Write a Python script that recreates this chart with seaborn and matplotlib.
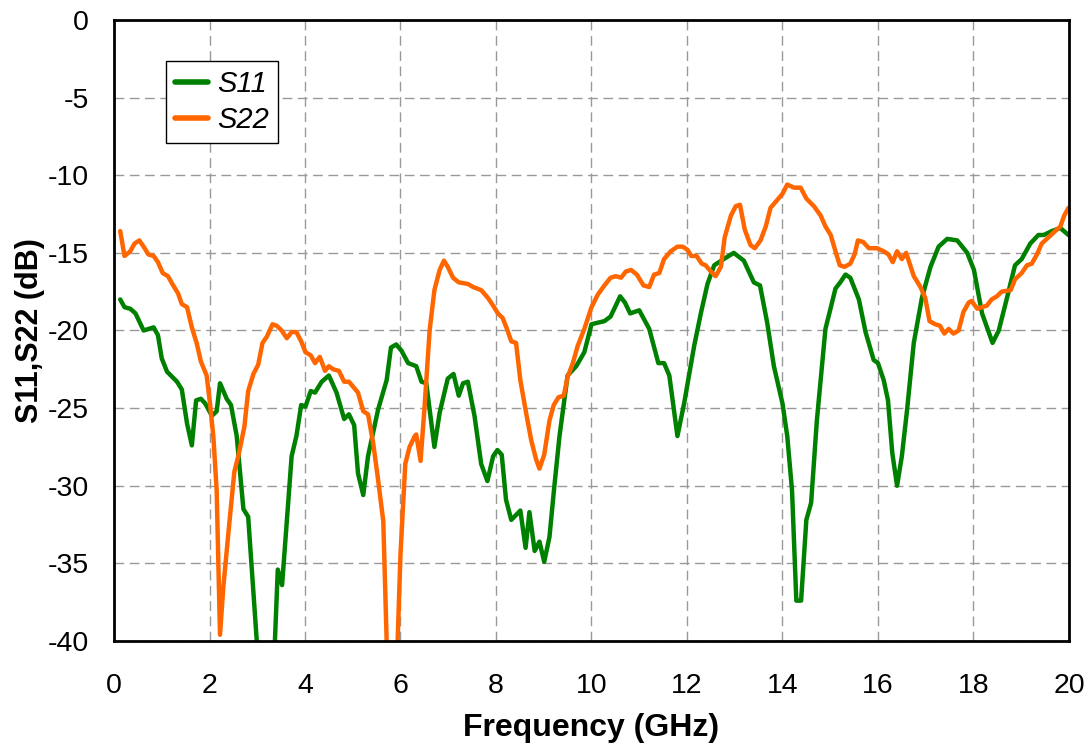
import matplotlib
matplotlib.use("Agg")
import matplotlib.pyplot as plt
import seaborn as sns
import pandas as pd

# S11 trace (GHz, dB); values under -40 are off-axis
s11_freq = [0.13, 0.22, 0.34, 0.45, 0.62, 0.83, 0.92, 1.00, 1.11, 1.32, 1.42, 1.53, 1.63, 1.72, 1.82, 1.91,
            2.05, 2.15, 2.22, 2.36, 2.45, 2.57, 2.71, 2.81, 2.99, 3.15, 3.37, 3.43, 3.52, 3.72, 3.82, 3.92,
            4.01, 4.12, 4.21, 4.35, 4.50, 4.66, 4.82, 4.92, 5.03, 5.11, 5.22, 5.32, 5.53, 5.71, 5.80, 5.91,
            6.02, 6.16, 6.33, 6.44, 6.54, 6.71, 6.82, 6.99, 7.11, 7.22, 7.31, 7.41, 7.55, 7.69, 7.82, 7.94,
            8.03, 8.12, 8.21, 8.32, 8.51, 8.62, 8.70, 8.81, 8.91, 9.01, 9.12, 9.22, 9.33, 9.50, 9.68, 9.85,
            10.00, 10.13, 10.27, 10.40, 10.60, 10.70, 10.81, 11.00, 11.21, 11.40, 11.52, 11.63, 11.80, 11.94,
            12.15, 12.29, 12.43, 12.57, 12.77, 12.98, 13.19, 13.40, 13.53, 13.68, 13.82, 14.00, 14.10, 14.20,
            14.29, 14.39, 14.50, 14.60, 14.72, 14.90, 15.11, 15.21, 15.32, 15.42, 15.60, 15.74, 15.91, 16.00,
            16.12, 16.21, 16.30, 16.40, 16.50, 16.61, 16.75, 16.92, 17.10, 17.27, 17.45, 17.66, 17.87, 18.01,
            18.18, 18.40, 18.53, 18.71, 18.87, 19.01, 19.19, 19.36, 19.47, 19.64, 19.82, 19.99]
s11_db = [-18.0, -18.5, -18.6, -18.9, -20.0, -19.8, -20.3, -21.8, -22.65, -23.3, -23.8, -26.0, -27.4, -24.5, -24.4, -24.7,
          -25.5, -25.2, -23.4, -24.4, -24.8, -26.8, -31.5, -32.0, -40.0, -45.0, -40.0, -35.4, -36.4, -28.1, -26.8, -24.8,
          -24.9, -23.9, -24.0, -23.3, -22.9, -24.0, -25.7, -25.4, -26.1, -29.2, -30.6, -28.1, -25.1, -23.2, -21.1, -20.9,
          -21.3, -22.1, -22.3, -23.3, -23.4, -27.5, -25.3, -23.1, -22.8, -24.2, -23.4, -23.3, -25.5, -28.6, -29.7, -28.1,
          -27.7, -28.0, -30.9, -32.2, -31.6, -34.0, -31.7, -34.2, -33.6, -34.9, -33.3, -30.1, -26.8, -22.9, -22.3, -21.4,
          -19.6, -19.5, -19.4, -19.1, -17.8, -18.2, -18.9, -18.7, -19.9, -22.1, -22.1, -22.9, -26.8, -24.7,
          -21.0, -18.9, -17.0, -15.8, -15.4, -15.0, -15.5, -16.9, -17.1, -19.5, -22.3, -24.7, -26.8, -30.3,
          -37.4, -37.4, -32.2, -31.1, -25.8, -19.9, -17.3, -16.9, -16.4, -16.6, -18.0, -20.1, -21.9, -22.1,
          -23.2, -24.5, -27.9, -30.0, -28.1, -25.1, -20.8, -17.9, -15.9, -14.6, -14.1, -14.2, -15.0, -16.1,
          -18.9, -20.8, -20.0, -17.8, -15.8, -15.4, -14.4, -13.85, -13.85, -13.6, -13.4, -13.85]

# S22 trace
s22_freq = [0.13, 0.22, 0.34, 0.43, 0.53, 0.62, 0.72, 0.83, 0.92, 1.02, 1.13, 1.22, 1.34, 1.42, 1.53, 1.63,
            1.73, 1.82, 1.94, 2.01, 2.08, 2.15, 2.22, 2.29, 2.40, 2.52, 2.61, 2.73, 2.81, 2.92, 3.02, 3.11,
            3.20, 3.32, 3.41, 3.51, 3.62, 3.72, 3.82, 3.92, 4.01, 4.12, 4.21, 4.31, 4.42, 4.50, 4.59, 4.71,
            4.82, 4.92, 5.03, 5.11, 5.22, 5.32, 5.43, 5.53, 5.64, 5.71, 5.83, 5.94, 6.00, 6.10, 6.19, 6.30,
            6.33, 6.42, 6.50, 6.61, 6.71, 6.82, 6.91, 6.99, 7.10, 7.22, 7.41, 7.52, 7.69, 7.83, 7.94, 8.04,
            8.14, 8.23, 8.32, 8.42, 8.51, 8.63, 8.74, 8.84, 8.91, 9.01, 9.12, 9.21, 9.31, 9.42, 9.50, 9.61,
            9.71, 9.85, 10.00, 10.13, 10.27, 10.40, 10.51, 10.62, 10.72, 10.83, 10.95, 11.09, 11.21, 11.31,
            11.42, 11.52, 11.66, 11.80, 11.91, 12.01, 12.09, 12.20, 12.31, 12.39, 12.50, 12.60, 12.71, 12.79,
            12.92, 13.02, 13.11, 13.21, 13.33, 13.42, 13.54, 13.65, 13.75, 13.89, 14.00, 14.10, 14.24, 14.38,
            14.50, 14.66, 14.80, 14.90, 15.01, 15.11, 15.20, 15.30, 15.42, 15.51, 15.58, 15.69, 15.81, 15.98,
            16.12, 16.22, 16.31, 16.40, 16.50, 16.59, 16.75, 16.89, 16.99, 17.08, 17.20, 17.30, 17.39, 17.48,
            17.58, 17.69, 17.79, 17.90, 17.96, 18.08, 18.18, 18.28, 18.38, 18.49, 18.59, 18.78, 18.87, 19.01,
            19.12, 19.22, 19.33, 19.43, 19.57, 19.71, 19.82, 19.90, 19.99]
s22_db = [-13.6, -15.2, -14.9, -14.4, -14.2, -14.6, -15.1, -15.2, -15.6, -16.3, -16.5, -17.0, -17.6, -18.3, -18.5, -19.8,
          -20.8, -22.0, -22.9, -24.7, -26.8, -30.3, -39.6, -36.5, -32.9, -29.1, -28.0, -26.2, -23.9, -22.8, -22.2, -20.8,
          -20.4, -19.6, -19.7, -20.0, -20.5, -20.1, -20.1, -20.7, -21.4, -21.6, -22.1, -21.7, -22.6, -22.3, -22.5, -22.6,
          -23.3, -23.3, -23.7, -24.0, -25.2, -25.4, -27.3, -29.6, -32.3, -40.0, -45.0, -40.0, -34.4, -28.6, -27.5, -26.8,
          -26.7, -28.4, -25.1, -20.0, -17.4, -16.1, -15.5, -15.9, -16.6, -16.9, -17.0, -17.2, -17.4, -17.9, -18.4, -18.9,
          -19.2, -19.9, -20.7, -20.8, -23.2, -25.3, -27.1, -28.3, -28.9, -28.0, -25.8, -24.8, -24.3, -24.2, -23.0, -22.1,
          -21.0, -19.9, -18.5, -17.7, -17.1, -16.6, -16.5, -16.6, -16.2, -16.1, -16.4, -17.1, -17.2, -16.4,
          -16.3, -15.4, -14.9, -14.6, -14.6, -14.8, -15.2, -15.2, -15.7, -15.8, -16.2, -16.5, -15.9, -14.0,
          -12.6, -12.0, -11.9, -13.5, -14.5, -14.7, -14.2, -13.3, -12.1, -11.6, -11.2, -10.6, -10.8, -10.8,
          -11.5, -12.0, -12.6, -13.3, -13.85, -14.9, -15.8, -15.9, -15.7, -15.1, -14.2, -14.3, -14.7, -14.7,
          -14.9, -15.1, -15.6, -14.9, -15.4, -15.0, -16.5, -17.2, -17.9, -19.4, -19.6, -19.7, -20.2, -19.9,
          -20.2, -20.0, -18.8, -18.2, -18.1, -18.6, -18.5, -18.4, -18.0, -17.8, -17.5, -17.4, -16.7, -16.3,
          -15.8, -15.7, -15.1, -14.4, -14.0, -13.6, -13.3, -12.6, -12.1]

x_ticks = list(range(0, 21, 2))
y_ticks = list(range(-40, 1, 5))

sns.set_style("white")
plt.rcParams['font.family'] = ['Liberation Sans', 'DejaVu Sans']
plt.rcParams['axes.unicode_minus'] = False
plt.rcParams['text.color'] = 'black'
plt.rcParams['xtick.color'] = '#444444'
plt.rcParams['ytick.color'] = '#444444'
plt.rcParams['xtick.labelcolor'] = 'black'
plt.rcParams['ytick.labelcolor'] = 'black'
plt.rcParams['axes.labelcolor'] = 'black'

fig = plt.figure(figsize=(10.91, 7.43), dpi=100)
ax = fig.add_axes([0.1045, 0.1373, 0.8753, 0.8358])

sns.lineplot(x=s11_freq, y=s11_db, color='#008000', linewidth=3.2, label='S11', ax=ax)
sns.lineplot(x=s22_freq, y=s22_db, color='#FF6600', linewidth=3.2, label='S22', ax=ax)

ax.set_xlim(0, 20)
ax.set_ylim(-40, 0)
ax.set_xticks(x_ticks)
ax.set_yticks(y_ticks)
ax.grid(True, color='#999999', linestyle=(0, (7, 4)), linewidth=1)
for s in ax.spines.values():
    s.set_color('black')
    s.set_linewidth(2)
ax.tick_params(direction='out', length=6, width=1, labelsize=20.5)
ax.tick_params(axis='x', pad=17)
ax.tick_params(axis='y', pad=12)
ax.set_xlabel('Frequency (GHz)', fontsize=23, fontweight='bold', labelpad=10)
ax.set_ylabel('S11,S22 (dB)', fontsize=22, fontweight='bold', labelpad=2)

leg = ax.legend(loc='upper left', bbox_to_anchor=(0.0545, 0.934), borderaxespad=0,
                fancybox=False, framealpha=1, edgecolor='black', handlelength=1.15,
                prop={'style': 'italic', 'size': 21}, labelspacing=0.3, handletextpad=0.3,
                borderpad=0.3)
leg.get_frame().set_linewidth(1)
for h in leg.get_lines():
    h.set_linewidth(4)

fig.savefig('out.png', dpi=100)
